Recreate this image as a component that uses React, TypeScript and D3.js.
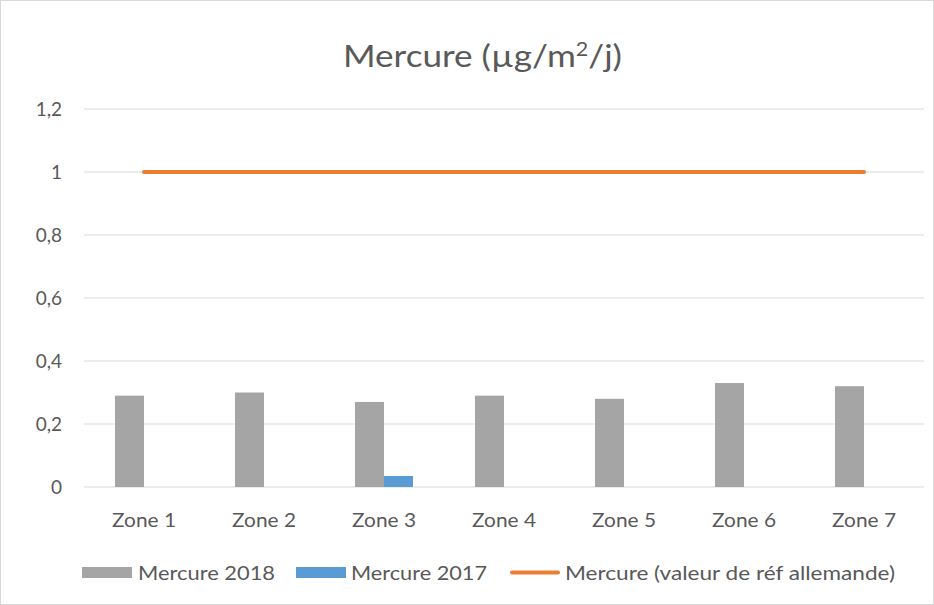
import React from 'react';
import * as d3 from 'd3';

const zones = ['Zone 1', 'Zone 2', 'Zone 3', 'Zone 4', 'Zone 5', 'Zone 6', 'Zone 7'];
const mercure2018 = [0.29, 0.30, 0.27, 0.29, 0.28, 0.33, 0.32];
const mercure2017 = [0, 0, 0.035, 0, 0, 0, 0];
const refAllemande = [1, 1, 1, 1, 1, 1, 1];
const yTicks = [0, 0.2, 0.4, 0.6, 0.8, 1, 1.2];

const W = 934, H = 605;
const FONT = 'Lato, "Open Sans", sans-serif';
const TXT = '#595959';

export default function App() {
	const x = d3.scaleBand<string>().domain(zones).range([84, 924]);
	const y = d3.scaleLinear().domain([0, 1.2]).range([487, 109]);
	const barW = 29;

	const line = d3.line<number>()
	               .x((d, i) => x(zones[i])! + x.bandwidth() / 2)
	               .y(d => y(d));

	const fmt = (v: number) => String(+v.toFixed(1)).replace('.', ',');

	return (
		<svg width={W} height={H} style={{ position: 'absolute', left: 0, top: 0 }}>
			<rect x={0.5} y={0.5} width={W - 1} height={H - 1} fill="#fff" stroke="#d9d9d9" />
			<text x={343} y={67} fontFamily={FONT} fontSize={31} fill={TXT} textLength={279} lengthAdjust="spacingAndGlyphs">
				Mercure (µg/m<tspan dy={-11} fontSize={19}>2</tspan><tspan dy={11}>/j)</tspan>
			</text>

			{/* grid + y labels */}
			{yTicks.map(t =>
				<g key={t}>
					<line x1={84} x2={924} y1={y(t)} y2={y(t)} stroke="#d9d9d9" strokeWidth={1} />
					<text x={62} y={y(t) + 7} textAnchor="end" fontFamily={FONT} fontSize={19} fill={TXT}>{fmt(t)}</text>
				</g>
			)}

			{/* bars */}
			{zones.map((z, i) => {
				const c = x(z)! + x.bandwidth() / 2;
				return (
					<g key={z}>
						<rect x={c - barW} y={y(mercure2018[i])} width={barW} height={y(0) - y(mercure2018[i])} fill="#a5a5a5" />
						{mercure2017[i] > 0 &&
							<rect x={c} y={y(mercure2017[i])} width={barW} height={y(0) - y(mercure2017[i])} fill="#5b9bd5" />}
						<text x={c - 32} y={527} fontFamily={FONT} fontSize={19} fill={TXT} textLength={64} lengthAdjust="spacingAndGlyphs">{z}</text>
					</g>
				);
			})}

			<path d={line(refAllemande)!} fill="none" stroke="#ed7d31" strokeWidth={4} strokeLinecap="round" />

			{/* legend */}
			<g fontFamily={FONT} fontSize={19} fill={TXT}>
				<rect x={82} y={567} width={50} height={11} fill="#a5a5a5" />
				<text x={138} y={580} textLength={137} lengthAdjust="spacingAndGlyphs">Mercure 2018</text>
				<rect x={296} y={567} width={50} height={11} fill="#5b9bd5" />
				<text x={351} y={580} textLength={136} lengthAdjust="spacingAndGlyphs">Mercure 2017</text>
				<line x1={512} x2={558} y1={572.5} y2={572.5} stroke="#ed7d31" strokeWidth={4} strokeLinecap="round" />
				<text x={565} y={580} textLength={330} lengthAdjust="spacingAndGlyphs">Mercure (valeur de réf allemande)</text>
			</g>
		</svg>
	);
}
